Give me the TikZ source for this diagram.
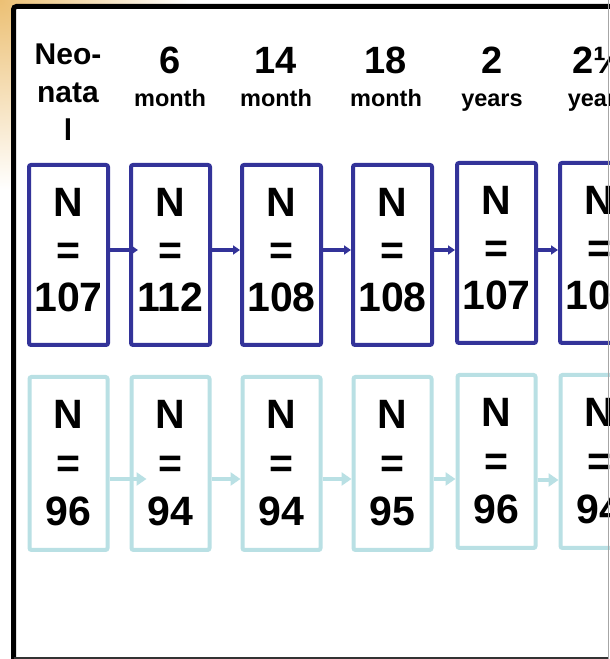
\documentclass[tikz,border=0pt]{standalone}
\usepackage{fontspec}
\setmainfont{Liberation Sans}
\usetikzlibrary{arrows.meta,positioning}
\definecolor{rowblue}{RGB}{51,51,153}
\definecolor{rowpale}{RGB}{185,224,228}
\definecolor{glow}{RGB}{236,192,116}
\tikzset{
  topbox/.style={rectangle, rounded corners=2pt, draw=rowblue, line width=4pt,
    fill=white, minimum width=79pt, minimum height=180pt, inner sep=0pt,
    align=center, text depth=10pt, font=\fontsize{41}{47.5}\selectfont\bfseries},
  lowbox/.style={rectangle, rounded corners=2pt, draw=rowpale, line width=4pt,
    fill=white, minimum width=78pt, minimum height=173pt, inner sep=0pt,
    align=center, font=\fontsize{41}{48.5}\selectfont\bfseries},
  headnum/.style={anchor=base, inner sep=0pt, font=\fontsize{38}{40}\selectfont\bfseries},
  headunit/.style={anchor=base, inner sep=0pt, font=\fontsize{23.5}{26}\selectfont\bfseries},
  toparrow/.style={-{Triangle[length=7pt,width=9pt]}, draw=rowblue, line width=3.5pt},
  lowarrow/.style={-{Triangle[length=10pt,width=13pt]}, draw=rowpale, line width=4.5pt},
}
\begin{document}
\begin{tikzpicture}[x=1pt, y=1pt, node distance=28pt]
\useasboundingbox (0,0) rectangle (610,659);
\clip (0,0) rectangle (610,659);

% background and frame
\fill[white] (0,0) rectangle (610,659);
\shade[inner color=glow, outer color=white] (0,659) circle (190);
\fill[white] (13.5,1.5) rectangle (608,652.5);
\draw[line width=5pt, rounded corners=3pt] (13.5,0) -- (13.5,652.5) -- (612,652.5);
\draw[black!80, line width=1.5pt] (13.5,1.2) -- (608.5,1.2);

% column headers
\node[inner sep=0pt, align=center, font=\fontsize{30}{38}\selectfont\bfseries] (hd1) at (68,567) {Neo-\\nata\\l};
\node[headnum] (hd2) at (170,585) {6};
\node[headunit] (un2) at (170,552) {month};
\node[headnum] (hd3) at (276,585) {14};
\node[headunit] (un3) at (276,552) {month};
\node[headnum] (hd4) at (386,585) {18};
\node[headunit] (un4) at (386,552) {month};
\node[headnum] (hd5) at (492,585) {2};
\node[headunit] (un5) at (492,552) {years};
\node[headnum] (hd6) at (598.5,585) {2½};
\node[headunit] (un6) at (598.5,552) {years};

% upper row
\node[topbox] (t1) at (68.5,404) {N\\=\\107};
\node[topbox, right=19pt of t1] (t2) {N\\=\\112};
\node[topbox, right=28pt of t2] (t3) {N\\=\\108};
\node[topbox, right=28pt of t3] (t4) {N\\=\\108};
\node[topbox, right=21pt of t4, yshift=2pt] (t5) {N\\=\\107};
\node[topbox, right=20pt of t5] (t6) {N\\=\\107};

% lower row
\node[lowbox, below=of t1] (c1) {N\\=\\96};
\node[lowbox, below=of t2] (c2) {N\\=\\94};
\node[lowbox, below=of t3] (c3) {N\\=\\94};
\node[lowbox, below=of t4] (c4) {N\\=\\95};
\node[lowbox, below=of t5] (c5) {N\\=\\96};
\node[lowbox, below=of t6] (c6) {N\\=\\94};

% connectors
\draw[toparrow, shorten >=-9pt] ([yshift=5pt]t1.east) -- ([yshift=5pt]t1.east -| t2.west);
\draw[toparrow] ([yshift=5pt]t2.east) -- ([yshift=5pt]t2.east -| t3.west);
\draw[toparrow] ([yshift=5pt]t3.east) -- ([yshift=5pt]t3.east -| t4.west);
\draw[toparrow] ([yshift=5pt]t4.east) -- ([yshift=5pt]t4.east -| t5.west);
\draw[toparrow] ([yshift=3pt]t5.east) -- ([yshift=3pt]t5.east -| t6.west);
\draw[lowarrow, shorten >=-17pt] ([yshift=-15.5pt]c1.east) -- ([yshift=-15.5pt]c1.east -| c2.west);
\draw[lowarrow] ([yshift=-15.5pt]c2.east) -- ([yshift=-15.5pt]c2.east -| c3.west);
\draw[lowarrow] ([yshift=-15.5pt]c3.east) -- ([yshift=-15.5pt]c3.east -| c4.west);
\draw[lowarrow] ([yshift=-15.5pt]c4.east) -- ([yshift=-15.5pt]c4.east -| c5.west);
\draw[lowarrow] ([yshift=-18.5pt]c5.east) -- ([yshift=-18.5pt]c5.east -| c6.west);

% right edge
\draw[black!35, line width=1pt] (608.5,0) -- (608.5,659);
\end{tikzpicture}
\end{document}
